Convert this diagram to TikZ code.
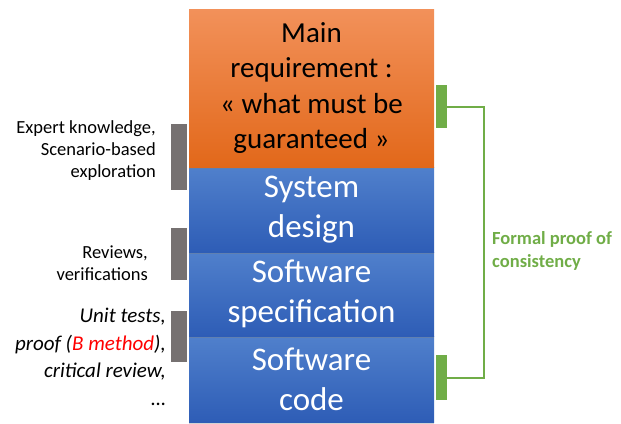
\documentclass[tikz,border=0pt]{standalone}
\usepackage{fontspec}
\setmainfont{Carlito}
\usetikzlibrary{shadows}
\definecolor{reqtop}{HTML}{F2915A}
\definecolor{reqbot}{HTML}{E2681A}
\definecolor{stagetop}{HTML}{5080CC}
\definecolor{stagebot}{HTML}{2E5DB6}
\definecolor{barGray}{HTML}{767171}
\definecolor{proofGreen}{HTML}{70AD47}
\tikzset{
  stage/.style={minimum width=245pt, align=center, inner sep=0pt,
    font=\fontsize{33}{40}\selectfont, text=white, top color=stagetop, bottom color=stagebot,
    drop shadow={opacity=0.35, shadow xshift=0pt, shadow yshift=-1.5pt}},
  reqbox/.style={stage, font=\fontsize{29}{35.5}\selectfont, text=black, top color=reqtop, bottom color=reqbot},
  greybar/.style={fill=barGray, minimum width=16pt, inner sep=0pt},
  greenbar/.style={fill=proofGreen, minimum width=11pt, inner sep=0pt},
  sidetext/.style={anchor=east, align=right, inner sep=0pt, font=\fontsize{18.5}{22}\selectfont},
}
\begin{document}
\begin{tikzpicture}[x=1pt, y=-1pt]
\useasboundingbox (0,0) rectangle (621,423);
% stages
\node[stage, minimum height=86pt] (code) at (311.5, 379) {Software\\code};
\node[stage, minimum height=84pt] (spec) at (311.5, 294) {Software\\specification};
\node[stage, minimum height=85pt] (design) at (311.5, 209.5) {System\\design};
\node[reqbox, minimum height=158pt] (req) at (311.5, 88) {Main\\requirement :\\« what must be\\guaranteed »};
% grey markers and their activities
\node[greybar, minimum height=66pt] (bar1) at (179, 157) {};
\node[greybar, minimum height=52pt] (bar2) at (179, 254) {};
\node[greybar, minimum height=51pt] (bar3) at (179, 336.5) {};
\node[sidetext] (act1) at (156, 151) {Expert knowledge,\\Scenario-based\\exploration};
\node[sidetext] (act2) at (148, 263) {Reviews,\\verifications};
\node[sidetext, font=\fontsize{21}{27.5}\selectfont\itshape] (act3) at (166, 357)
  {Unit tests,\\proof (\textcolor{red}{B method}),\\critical review,\\\dots};
% formal proof bracket
\node[greenbar, minimum height=43pt] (gtop) at (441.5, 106.5) {};
\node[greenbar, minimum height=45pt] (gbot) at (441.5, 377.5) {};
\draw[proofGreen, line width=2pt] (gtop.east) -- (484, 106.5) |- (gbot.east);
\node[anchor=west, align=left, inner sep=0pt, text=proofGreen, font=\fontsize{18.5}{23}\selectfont\bfseries] (proof) at (492, 251)
  {Formal proof of\\consistency};
\end{tikzpicture}
\end{document}
